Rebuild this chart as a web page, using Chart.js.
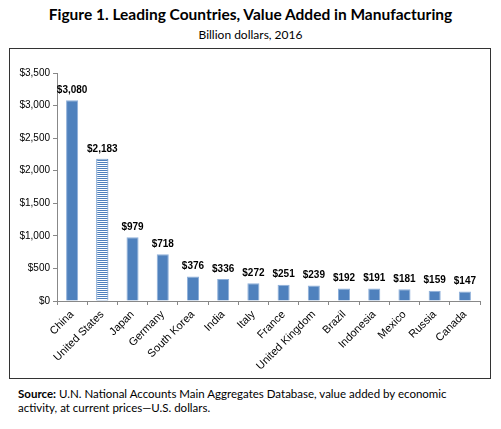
<!DOCTYPE html>
<html lang="en">
<head>
<meta charset="UTF-8">
<title>Leading Countries, Value Added in Manufacturing</title>
<script src="https://cdn.jsdelivr.net/npm/chart.js"></script>
<style>
    body {
        margin: 0;
        width: 501px;
        height: 429px;
        background: white;
        font-family: "Liberation Sans", Arial, sans-serif;
        position: relative;
    }
    .title {
        position: absolute;
        top: 5px;
        left: 0;
        width: 501px;
        text-align: center;
        font-family: Lato, "Open Sans", sans-serif;
        font-weight: bold;
        font-size: 15.5px;
        color: #000;
    }
    .subtitle {
        position: absolute;
        top: 27px;
        left: 0;
        width: 501px;
        text-align: center;
        font-family: Lato, "Open Sans", sans-serif;
        font-size: 12px;
    }
    .box {
        position: absolute;
        left: 9px;
        top: 48px;
        width: 480px;
        height: 329px;
        border: 1px solid #333;
    }
    .source {
        position: absolute;
        left: 18px;
        top: 387px;
        width: 470px;
        font-family: Lato, "Open Sans", sans-serif;
        font-size: 11.5px;
        line-height: 14px;
    }
</style>
</head>
<body>
    <div class="title">Figure 1. Leading Countries, Value Added in Manufacturing</div>
    <div class="subtitle">Billion dollars, 2016</div>
    <div class="box">
        <canvas id="mfgChart" width="480" height="329"></canvas>
    </div>
    <div class="source"><b>Source:</b> U.N. National Accounts Main Aggregates Database, value added by economic activity, at current prices—U.S. dollars.</div>

<script>
    const countries = ["China", "United States", "Japan", "Germany", "South Korea", "India", "Italy",
        "France", "United Kingdom", "Brazil", "Indonesia", "Mexico", "Russia", "Canada"];
    const valueAdded = [3080, 2183, 979, 718, 376, 336, 272, 251, 239, 192, 191, 181, 159, 147];
    const yTicks = [0, 500, 1000, 1500, 2000, 2500, 3000, 3500];

    const blue = "#4F81BD";

    // striped fill for the United States bar
    function stripePattern() {
        let c = document.createElement("canvas");
        c.width = 4;
        c.height = 2;
        let g = c.getContext("2d");
        g.fillStyle = "white";
        g.fillRect(0, 0, 4, 2);
        g.fillStyle = blue;
        g.fillRect(0, 1, 4, 1);
        return g.createPattern(c, "repeat");
    }

    function money(v) {
        return "$" + v.toLocaleString("en-US");
    }

    let fills = countries.map((c, i) => i == 1 ? stripePattern() : blue);
    let borders = countries.map((c, i) => i == 1 ? blue : "#8FB0DA");

    // value labels above bars
    const barLabels = {
        id: "barLabels",
        afterDatasetsDraw(chart) {
            let ctx = chart.ctx;
            let meta = chart.getDatasetMeta(0);
            ctx.save();
            ctx.font = "bold 10px 'Liberation Sans', Arial, sans-serif";
            ctx.fillStyle = "#000";
            ctx.textAlign = "center";
            ctx.textBaseline = "bottom";
            meta.data.forEach((bar, i) => {
                ctx.fillText(money(valueAdded[i]), bar.x, bar.y - 5);
            });
            ctx.restore();
        }
    };

    let ctx = document.getElementById("mfgChart").getContext("2d");
    let mfgChart = new Chart(ctx, {
        type: "bar",
        data: {
            labels: countries,
            datasets: [{
                data: valueAdded,
                backgroundColor: fills,
                borderColor: borders,
                borderWidth: 1,
                barPercentage: 0.4,
                categoryPercentage: 1.0
            }]
        },
        options: {
            responsive: false,
            animation: false,
            layout: {
                padding: { top: 24, right: 10, left: 0, bottom: 0 }
            },
            plugins: {
                legend: { display: false },
                tooltip: { enabled: false }
            },
            scales: {
                x: {
                    afterFit(scale) { scale.height = 77; },
                    grid: {
                        drawOnChartArea: false,
                        tickLength: 4,
                        color: "#888"
                    },
                    border: { color: "#888" },
                    ticks: {
                        minRotation: 45,
                        maxRotation: 45,
                        autoSkip: false,
                        color: "#000",
                        font: { family: "'Liberation Sans', Arial, sans-serif", size: 11 }
                    }
                },
                y: {
                    min: 0,
                    max: 3500,
                    afterFit(scale) { scale.width = 47; },
                    afterBuildTicks(scale) {
                        scale.ticks = yTicks.map(v => ({ value: v }));
                    },
                    grid: {
                        drawOnChartArea: false,
                        tickLength: 4,
                        color: "#888"
                    },
                    border: { color: "#888" },
                    ticks: {
                        color: "#000",
                        padding: 3,
                        font: { family: "'Liberation Sans', Arial, sans-serif", size: 10 },
                        callback: v => money(v)
                    }
                }
            }
        },
        plugins: [barLabels]
    });
</script>
</body>
</html>
